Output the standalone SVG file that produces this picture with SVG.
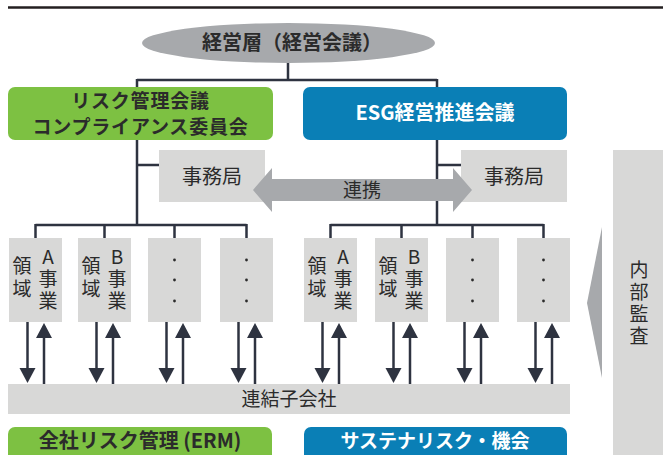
<svg xmlns="http://www.w3.org/2000/svg" width="663" height="455" viewBox="0 0 663 455">
<defs>
<style>
.ln{stroke:#2e3340;stroke-width:2.5;fill:none}
.gbox{fill:#d8d8d7}
.t{font-family:"Noto Sans CJK JP","Noto Sans",sans-serif;fill:#2b2b2b;text-anchor:middle}
.v{font-family:"Noto Sans CJK JP","Noto Sans",sans-serif;fill:#2b2b2b;font-size:19px;writing-mode:vertical-rl;text-orientation:upright;text-anchor:start;letter-spacing:3px}
.b{font-weight:bold}
.w{fill:#ffffff}
.green{fill:#7dc142}
.blue{fill:#0a7fb6}
.dot{fill:#2b2b2b}
</style>
<marker id="ah" markerUnits="userSpaceOnUse" markerWidth="16" markerHeight="17" refX="12" refY="8" orient="auto">
<path d="M0,0 L15,8 L0,16 z" fill="#2e3340"/>
</marker>
</defs>
<rect width="663" height="455" fill="#ffffff"/>
<line x1="8" y1="7.5" x2="663" y2="7.5" stroke="#231f20" stroke-width="2.5"/>

<g id="connectors">
<path class="ln" d="M288,62 V80 M137,80 H437 M137,79 V225 M437,79 V225 M137,165 H160 M437,165 H462"/>
<path class="ln" d="M35.5,225 H246.5 M35.5,224 V238 M104.5,224 V238 M174.5,224 V238 M246.5,224 V238"/>
<path class="ln" d="M330.5,225 H543.5 M330.5,224 V238 M401.5,224 V238 M472.5,224 V238 M543.5,224 V238"/>
<g class="ln" marker-end="url(#ah)">
<line x1="27.5" y1="322" x2="27.5" y2="380"/>
<line x1="44" y1="384" x2="44" y2="326"/>
<line x1="96.5" y1="322" x2="96.5" y2="380"/>
<line x1="113" y1="384" x2="113" y2="326"/>
<line x1="166.5" y1="322" x2="166.5" y2="380"/>
<line x1="183" y1="384" x2="183" y2="326"/>
<line x1="238.5" y1="322" x2="238.5" y2="380"/>
<line x1="255" y1="384" x2="255" y2="326"/>
<line x1="322.5" y1="322" x2="322.5" y2="380"/>
<line x1="339" y1="384" x2="339" y2="326"/>
<line x1="393.5" y1="322" x2="393.5" y2="380"/>
<line x1="410" y1="384" x2="410" y2="326"/>
<line x1="464.5" y1="322" x2="464.5" y2="380"/>
<line x1="481" y1="384" x2="481" y2="326"/>
<line x1="535.5" y1="322" x2="535.5" y2="380"/>
<line x1="552" y1="384" x2="552" y2="326"/>
</g>
</g>

<g id="management">
<ellipse cx="288.5" cy="43" rx="146.5" ry="20" fill="#a7a9ac"/>
<text class="t b" x="292" y="50" font-size="20">経営層（経営会議）</text>
</g>

<g id="risk-committee">
<rect class="green" x="8" y="87" width="265" height="53" rx="7"/>
<text class="t b" x="140.5" y="108" font-size="19" letter-spacing="0.8">リスク管理会議</text>
<text class="t b" x="140.5" y="134" font-size="19" letter-spacing="0.8">コンプライアンス委員会</text>
</g>

<g id="esg-committee">
<rect class="blue" x="303" y="87" width="264" height="53" rx="7"/>
<text class="t b w" x="435" y="120" font-size="20">ESG経営推進会議</text>
</g>

<g id="office-left">
<rect class="gbox" x="159" y="150" width="106" height="52"/>
<text class="t" x="212" y="184" font-size="20">事務局</text>
</g>

<g id="office-right">
<rect class="gbox" x="461" y="150" width="106" height="52"/>
<text class="t" x="514" y="184" font-size="20">事務局</text>
</g>

<g id="collaboration">
<polygon points="253,190 272,168 272,179 453,179 453,168 472,190 453,212 453,201 272,201 272,212" fill="#a7a9ac"/>
<text class="t" x="362" y="197" font-size="19">連携</text>
</g>

<g id="left-a">
<rect class="gbox" x="9" y="238" width="53" height="84"/>
<text class="v" x="22" y="256.5" style="letter-spacing:4px">領域</text>
<text class="v" x="48" y="247.5">A事業</text>
</g>
<g id="left-b">
<rect class="gbox" x="78" y="238" width="53" height="84"/>
<text class="v" x="91" y="256.5" style="letter-spacing:4px">領域</text>
<text class="v" x="117" y="247.5">B事業</text>
</g>
<g id="left-c">
<rect class="gbox" x="148" y="238" width="53" height="84"/>
<circle class="dot" cx="174.5" cy="260" r="1.4"/><circle class="dot" cx="174.5" cy="280" r="1.4"/><circle class="dot" cx="174.5" cy="301" r="1.4"/>
</g>
<g id="left-d">
<rect class="gbox" x="220" y="238" width="53" height="84"/>
<circle class="dot" cx="246.5" cy="260" r="1.4"/><circle class="dot" cx="246.5" cy="280" r="1.4"/><circle class="dot" cx="246.5" cy="301" r="1.4"/>
</g>

<g id="right-a">
<rect class="gbox" x="304" y="238" width="53" height="84"/>
<text class="v" x="317" y="256.5" style="letter-spacing:4px">領域</text>
<text class="v" x="343" y="247.5">A事業</text>
</g>
<g id="right-b">
<rect class="gbox" x="375" y="238" width="53" height="84"/>
<text class="v" x="388" y="256.5" style="letter-spacing:4px">領域</text>
<text class="v" x="414" y="247.5">B事業</text>
</g>
<g id="right-c">
<rect class="gbox" x="446" y="238" width="53" height="84"/>
<circle class="dot" cx="472.5" cy="260" r="1.4"/><circle class="dot" cx="472.5" cy="280" r="1.4"/><circle class="dot" cx="472.5" cy="301" r="1.4"/>
</g>
<g id="right-d">
<rect class="gbox" x="517" y="238" width="53" height="84"/>
<circle class="dot" cx="543.5" cy="260" r="1.4"/><circle class="dot" cx="543.5" cy="280" r="1.4"/><circle class="dot" cx="543.5" cy="301" r="1.4"/>
</g>

<g id="subsidiaries">
<rect class="gbox" x="8" y="384" width="562" height="30"/>
<text class="t" x="289" y="406" font-size="19">連結子会社</text>
</g>

<g id="erm">
<rect class="green" x="8" y="427" width="264" height="40" rx="7"/>
<text class="t b" x="140" y="448" font-size="20">全社リスク管理 (ERM)</text>
</g>

<g id="sustainability">
<rect class="blue" x="304" y="427" width="263" height="40" rx="7"/>
<text class="t b w" x="435" y="448" font-size="19">サステナリスク・機会</text>
</g>

<g id="internal-audit">
<polygon points="602,227 587,303 602,378" fill="#a7a9ac"/>
<rect class="gbox" x="613" y="150" width="52" height="310"/>
<text class="v" x="639" y="260.5">内部監査</text>
</g>
</svg>
